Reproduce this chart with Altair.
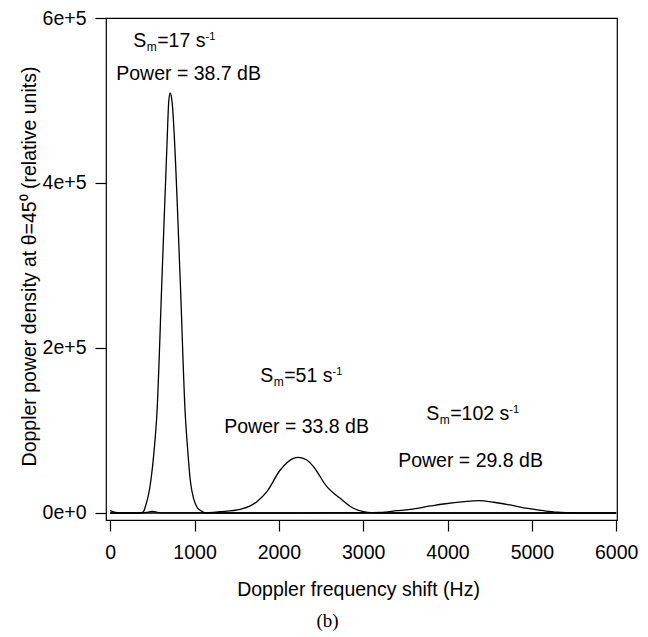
import altair as alt
import pandas as pd

FONT = "Liberation Sans"
FS = 19.5

# ---- spectra (Hz, relative units) ----
freq_s17 = [0, 30, 60, 120, 200, 300, 376, 400, 415, 450, 483, 520, 554, 613, 672, 695, 711,
            728, 830, 889, 920, 949, 990, 1028, 1080, 1147, 1300, 2000, 3000, 4000, 5000, 6000]
dens_s17 = [2800, 1800, 800, 200, 100, 100, 300, 2500, 7300, 20000, 40000, 75000, 121000, 282000, 443600, 500000, 509000,
            503000, 282400, 121200, 75000, 40000, 17000, 7300, 2500, 0, 0, 0, 0, 0, 0, 0]

freq_s51 = [0, 300, 440, 500, 560, 650, 1100, 1304, 1541, 1739, 1858, 2016, 2174, 2233, 2332, 2411,
            2569, 2727, 2885, 3004, 3100, 3300, 4000, 5000, 6000]
dens_s51 = [0, 0, 800, 1800, 800, 100, 200, 1600, 4500, 13700, 25800, 52100, 66300, 67500, 64200, 56100,
            31900, 17800, 5700, 1600, 300, 0, 0, 0, 0]

freq_s102 = [0, 2000, 3000, 3200, 3400, 3557, 3800, 3952, 4200, 4368, 4550, 4743, 4950, 5138, 5300, 5415, 5600, 6000]
dens_s102 = [0, 0, 300, 800, 2800, 4400, 8500, 10900, 13800, 14900, 13000, 9700, 5500, 2800, 1000, 400, 0, 0]

# ---- annotations ----
sm_values = ["17", "51", "102"]
sm_freq = [273, 1779, 3747]
sm_dens = [564800, 158800, 112700]
power_labels = ["Power = 38.7 dB", "Power = 33.8 dB", "Power = 29.8 dB"]
power_freq = [71, 1352, 3415]
power_dens = [524800, 97000, 55800]

x_ticks = [0, 1000, 2000, 3000, 4000, 5000, 6000]
y_ticks = [0, 200000, 400000, 600000]

rows = []
for name, fx, dy in [("17", freq_s17, dens_s17), ("51", freq_s51, dens_s51), ("102", freq_s102, dens_s102)]:
    for f, d in zip(fx, dy):
        rows.append({"series": name, "freq": f, "dens": d})
spec = pd.DataFrame(rows)

# Arial-like advance widths (em/1000) for width estimates of label pieces
ARIAL = {"=": 584, " ": 278, "s": 500}
ARIAL.update({str(i): 556 for i in range(10)})


def text_width(t, size):
    return sum(ARIAL.get(c, 556) for c in t) / 1000.0 * size


xscale = alt.Scale(domain=[-50, 6010], nice=False, zero=False)
yscale = alt.Scale(domain=[-8500, 600000], nice=False, zero=False)

xaxis = alt.Axis(values=x_ticks, format="d", title="Doppler frequency shift (Hz)",
                 tickSize=11, tickColor="black", tickWidth=1.2, domain=False, grid=False,
                 labelFont=FONT, labelFontSize=FS, labelColor="black", labelFlush=False,
                 labelOverlap=False, labelBaseline="alphabetic", labelPadding=27,
                 titleFont=FONT, titleFontSize=FS, titleFontWeight="normal", titleColor="black",
                 titleX=252, titleY=75, titleBaseline="alphabetic")
yaxis = alt.Axis(values=y_ticks, format=".0e",
                 title="Doppler power density at \u03b8=45\u2070 (relative units)",
                 tickSize=11, tickColor="black", tickWidth=1.2, domain=False, grid=False,
                 labelFont=FONT, labelFontSize=FS, labelColor="black", labelPadding=9,
                 labelFlush=False, labelOverlap=False,
                 titleFont=FONT, titleFontSize=FS, titleFontWeight="normal", titleColor="black",
                 titleX=-71, titleY=248, titleAngle=270, titleBaseline="alphabetic", titleAlign="center")

lines = alt.Chart(spec).mark_line(color="black", strokeWidth=1.3, interpolate="monotone").encode(
    x=alt.X("freq:Q", scale=xscale, axis=xaxis),
    y=alt.Y("dens:Q", scale=yscale, axis=yaxis),
    detail="series:N",
)

layers = [lines]

power_df = pd.DataFrame({"freq": power_freq, "dens": power_dens, "label": power_labels})
layers.append(alt.Chart(power_df).mark_text(align="left", baseline="alphabetic", font=FONT,
                                            fontSize=FS, color="black").encode(
    x="freq:Q", y="dens:Q", text="label:N"))

for v, f, d in zip(sm_values, sm_freq, sm_dens):
    df = pd.DataFrame({"freq": [f], "dens": [d]})
    base = alt.Chart(df)
    mid = "=" + v + " s"
    sup_dx = 24 + text_width(mid, FS)
    layers.append(base.mark_text(align="left", baseline="alphabetic", font=FONT, fontSize=FS,
                                 color="black", text="S").encode(x="freq:Q", y="dens:Q"))
    layers.append(base.mark_text(align="left", baseline="alphabetic", font=FONT, fontSize=12,
                                 color="black", text="m", dx=13.5, dy=4).encode(x="freq:Q", y="dens:Q"))
    layers.append(base.mark_text(align="left", baseline="alphabetic", font=FONT, fontSize=FS,
                                 color="black", text=mid, dx=24).encode(x="freq:Q", y="dens:Q"))
    layers.append(base.mark_text(align="left", baseline="alphabetic", font=FONT, fontSize=11,
                                 color="black", text="-1", dx=sup_dx, dy=-7).encode(x="freq:Q", y="dens:Q"))

chart = alt.layer(*layers).properties(
    width=511, height=502,
    padding={"left": 106, "top": 18, "right": 31, "bottom": 117},
    autosize=alt.AutoSizeParams(type="none"),
    title=alt.TitleParams(text="(b)", orient="bottom", font="Liberation Serif", fontSize=19,
                          fontWeight="normal", color="black", anchor="middle", offset=13, dx=-34),
    background="white",
).configure_view(stroke="black", strokeWidth=1.2)

chart.save("out.html", embed_options={"renderer": "svg", "actions": False})
